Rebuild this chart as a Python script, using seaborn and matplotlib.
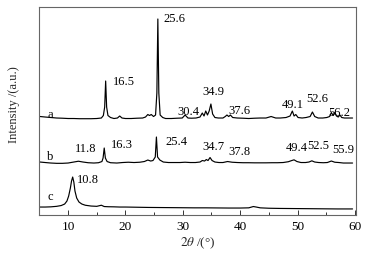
import matplotlib
matplotlib.use("Agg")
import matplotlib.pyplot as plt
import pandas as pd
import seaborn as sns
from matplotlib.ticker import MultipleLocator

# ---------------- data ----------------
a_x = [5.1, 6, 7, 8, 9, 10, 11, 12, 13, 14,
       15, 15.8, 16.15, 16.38, 16.55, 16.72, 16.95, 17.4, 18, 18.6,
       19.0, 19.4, 20, 21, 22, 23, 23.5, 23.9, 24.2, 24.5,
       24.9, 25.25, 25.48, 25.65, 25.82, 26.05, 26.5, 27, 28, 29,
       29.9, 30.4, 30.9, 31.5, 32.3, 33.0, 33.4, 33.7, 34.0, 34.3,
       34.6, 34.9, 35.2, 35.6, 36.2, 37.0, 37.4, 37.7, 38.0, 38.3,
       38.7, 39.5, 40.5, 41.5, 42.5, 43.5, 44.5, 45.4, 46.2, 47,
       48, 48.7, 49.1, 49.4, 49.7, 50.1, 50.8, 51.5, 52.2, 52.6,
       53.0, 53.6, 54.4, 55.1, 55.6, 55.9, 56.2, 56.5, 56.8, 57.1,
       57.4, 57.7, 58.2, 59.6]
a_y = [98.5, 98, 97.5, 97, 96.8, 96.5, 96.5, 96.3, 96.3, 96.3,
       96.5, 97, 99.5, 108, 134, 108, 99.5, 97.5, 96.5, 97,
       99, 97, 96.5, 96.5, 96.8, 97, 98, 100.5, 99.5, 100.5,
       98.5, 100, 122, 196, 122, 100, 97.5, 96.5, 96.5, 96.8,
       97, 100, 97, 96.8, 97, 98, 102, 99, 104, 100,
       104, 111, 101, 97.5, 97, 97, 98.5, 100, 98.5, 100,
       97.5, 97, 96.8, 96.5, 96.8, 97, 97, 98.5, 97, 97,
       97.5, 99, 104, 99, 100.5, 97.5, 97, 97.5, 98.5, 103,
       98.5, 97, 97, 97.5, 98.5, 102.5, 99.5, 102.5, 99, 98,
       100, 97.5, 97, 97]

b_x = [5.1, 6, 7, 8, 9, 10, 11, 11.8, 12.6, 13.5,
       14.5, 15.3, 15.9, 16.1, 16.3, 16.5, 16.8, 17.4, 18.5, 19.5,
       20.5, 21.5, 22.5, 23.3, 23.9, 24.4, 24.8, 25.2, 25.4, 25.6,
       26.0, 26.6, 27.5, 28.5, 29.5, 30.4, 31.3, 32.2, 33.0, 33.4,
       33.8, 34.1, 34.4, 34.75, 35.1, 35.6, 36.3, 37.0, 37.8, 38.6,
       39.5, 40.5, 41.5, 42.5, 43.5, 44.5, 45.5, 46.5, 47.5, 48.4,
       49.0, 49.4, 49.9, 50.6, 51.4, 52.0, 52.5, 53.0, 53.7, 54.5,
       55.2, 55.9, 56.5, 57.2, 58, 59.6]
b_y = [53, 52.5, 52, 51.7, 51.7, 52, 53, 53.8, 53, 52.3,
       52, 52.3, 53.5, 57, 67, 57, 53.5, 52.3, 52, 52.5,
       52.8, 52.5, 52.8, 53.5, 55, 54, 54.5, 58, 78, 58,
       55, 53, 52.5, 52.5, 52.5, 52.8, 52.5, 52.5, 53, 54.5,
       54, 55.5, 54.5, 57.5, 54.5, 53, 52.5, 52.5, 53.5, 52.8,
       52.5, 52.3, 52.3, 52.2, 52.2, 52.2, 52.3, 52.3, 52.5, 53.3,
       54.5, 55.2, 53.5, 52.5, 52.5, 53, 54.2, 53, 52.5, 52.3,
       52.5, 54, 52.8, 52.5, 52, 52]

c_x = [5.1, 6, 7, 8, 8.8, 9.4, 9.8, 10.1, 10.4, 10.6,
       10.8, 11.0, 11.2, 11.5, 11.9, 12.4, 13, 14, 15, 15.8,
       16.3, 17, 18, 19, 20, 22, 24, 26, 28, 30,
       32, 34, 36, 38, 40, 41.5, 42.3, 42.8, 43.5, 45,
       47, 49, 51, 53, 55, 57, 59.6]
c_y = [8, 8, 8.2, 8.7, 9.5, 11, 14, 19, 27, 34,
       38, 33, 24, 17, 13, 11, 9.8, 9, 8.7, 9.8,
       8.5, 8.3, 8.2, 8, 8, 7.8, 7.6, 7.5, 7.4, 7.3,
       7.2, 7.2, 7.1, 7, 7, 7.2, 8.5, 8, 7.2, 6.8,
       6.6, 6.5, 6.4, 6.3, 6.2, 6.1, 6.1]

curve_names = ["a", "b", "c"]

a_labels = ["25.6", "16.5", "30.4", "34.9", "37.6", "49.1", "52.6", "56.2"]
b_labels = ["11.8", "16.3", "25.4", "34.7", "37.8", "49.4", "52.5", "55.9"]
c_labels = ["10.8"]

xticks = [10, 20, 30, 40, 50, 60]

# ---------------- layout (positions of annotations) ----------------
a_label_pos = [(26.57, 196), (17.85, 133), (29.0, 103), (33.4, 123),
               (37.9, 104), (47.3, 110), (51.5, 116), (55.4, 102)]
b_label_pos = [(11.2, 66), (17.5, 70), (26.9, 73), (33.5, 68),
               (37.9, 63), (48.0, 67), (51.7, 69), (56.1, 65)]
c_label_pos = [(11.6, 35)]
name_pos = [(6.85, 100), (6.85, 58), (6.85, 18)]

# ---------------- plotting ----------------
sns.set_theme(style="ticks")
plt.rcParams["font.family"] = ["Liberation Serif", "DejaVu Serif"]
plt.rcParams["mathtext.fontset"] = "stix"

fig = plt.figure(figsize=(3.69, 2.56), dpi=100)
ax = fig.add_axes([0.1068, 0.160, 0.858, 0.8127])

frames = []
for name, xs, ys in zip(curve_names, [a_x, b_x, c_x], [a_y, b_y, c_y]):
    frames.append(pd.DataFrame({"two_theta": xs, "intensity": ys, "sample": name}))
df = pd.concat(frames, ignore_index=True)

for name in curve_names:
    sub = df[df["sample"] == name]
    sns.lineplot(data=sub, x="two_theta", y="intensity", color="black",
                 linewidth=0.85, sort=False, estimator=None, ax=ax)

fs = 9
for labels, pos in [(a_labels, a_label_pos), (b_labels, b_label_pos), (c_labels, c_label_pos)]:
    for t, (x, y) in zip(labels, pos):
        ax.text(x, y, t, fontsize=fs, ha="left", va="center", color="black")
for t, (x, y) in zip(curve_names, name_pos):
    ax.text(x, y, t, fontsize=fs, ha="center", va="center", color="black")

ax.set_xlim(5, 60.2)
ax.set_ylim(0, 208)
ax.set_xticks(xticks)
ax.xaxis.set_minor_locator(MultipleLocator(5))
ax.set_yticks([])
ax.tick_params(axis="x", which="major", direction="in", length=3.5, width=0.7,
               labelsize=9.5, pad=4, colors="#333333", labelcolor="black")
ax.tick_params(axis="x", which="minor", direction="in", length=2.2, width=0.7,
               colors="#333333")
for s in ax.spines.values():
    s.set_color("#666666")
    s.set_linewidth(0.8)

ax.set_xlabel(r"$\mathit{2}\theta$ /(°)", fontsize=9.5, labelpad=2)
ax.set_ylabel("Intensity /(a.u.)", fontsize=9)
ax.yaxis.set_label_coords(-0.062, 0.53)

fig.savefig("out.png", dpi=100)
